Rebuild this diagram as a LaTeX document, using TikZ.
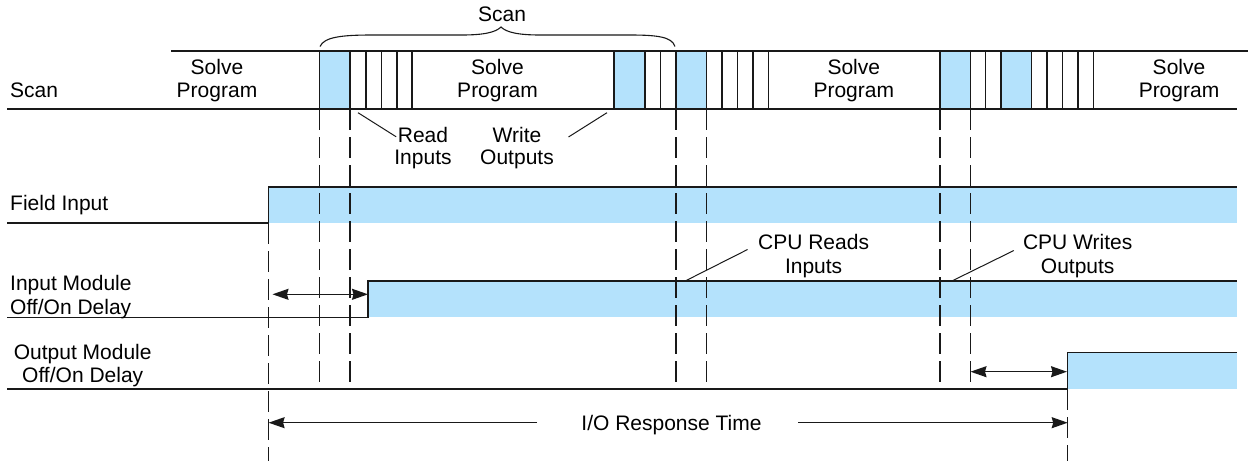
\documentclass[tikz,border=0pt]{standalone}
\usepackage{fontspec}
\setmainfont{Liberation Sans}
\usetikzlibrary{arrows.meta}
\definecolor{sigblue}{RGB}{180,226,252}
\definecolor{ink}{RGB}{25,25,25}
\begin{document}
\begin{tikzpicture}[x=1pt,y=-1pt,
  txt/.style={font=\fontsize{21}{24}\selectfont, inner sep=0pt, anchor=base},
  txtl/.style={txt, anchor=base west},
  ln/.style={draw=ink, line width=1.3pt},
  barline/.style={draw=ink, line width=1.1pt},
  guide/.style={draw=ink, line width=1.2pt, dash pattern=on 21pt off 7pt},
  cell/.style={fill=sigblue, draw=ink, line width=1.1pt},
  leader/.style={draw=ink, line width=1pt},
  tip/.tip={Stealth[length=16pt,width=11pt,inset=1.5pt]},
  dbl/.style={ln, tip-tip},
  sgl/.style={ln, -tip},
]
\useasboundingbox (0,0) rectangle (1248,461);

% ---------- waveform fills ----------
\fill[sigblue] (268.6,187) rectangle (1236.7,223);
\fill[sigblue] (368,281) rectangle (1236.7,317.3);
\fill[sigblue] (1067.7,352.7) rectangle (1237,389);

% ---------- scan bar ----------
\draw[cell] (319.5,51) rectangle (350,109);
\draw[cell] (614,51) rectangle (645,109);
\draw[cell] (676,51) rectangle (706.5,109);
\draw[cell] (940,51) rectangle (970.5,109);
\draw[cell] (1001,51) rectangle (1031.5,109);
\foreach \x in {366,381.5,397,412,660.5,722,737.5,753,768.5,985.5,1047,1062.5,1078,1093.5}
  \draw[barline] (\x,51) -- (\x,109);
\draw[ln] (171,51) -- (1248,51);
\draw[ln] (7,109) -- (1237,109);

% ---------- waveform outlines ----------
\draw[ln] (7,223) -- (268.6,223) -- (268.6,187) -- (1236.7,187);
\draw[ln] (7,317.3) -- (368,317.3) -- (368,281) -- (1236.7,281);
\draw[ln] (7,389) -- (1067.7,389) -- (1067.7,352.7) -- (1237,352.7);

% ---------- dashed guides ----------
\draw[guide] (268.6,223) -- (268.6,461);
\foreach \x in {319.5,350,676,706.5,940,970.5}
  \draw[guide] (\x,109) -- (\x,389);
\draw[guide] (1067.7,389) -- (1067.7,461);

% ---------- brace ----------
\draw[ink, line width=1.1pt]
  (320,46.5) .. controls (324,37) and (342,35) .. (372,35)
  -- (462,35) .. controls (485,35) and (496,32) .. (501,27)
  .. controls (506,32) and (517,35) .. (540,35)
  -- (630,35) .. controls (658,35) and (672,37) .. (675,46.5);

% ---------- texts ----------
\node[txt] (scanT) at (502,21.7) {Scan};
\node[txtl] (scanL) at (10,97.3) {Scan};
\node[txt] (spAa) at (217,74) {Solve};
\node[txt] (spAb) at (217,97.3) {Program};
\node[txt] (spBa) at (497.5,74) {Solve};
\node[txt] (spBb) at (497.5,97.3) {Program};
\node[txt] (spCa) at (853.8,74) {Solve};
\node[txt] (spCb) at (853.8,97.3) {Program};
\node[txt] (spDa) at (1179,74) {Solve};
\node[txt] (spDb) at (1179,97.3) {Program};
\node[txt] (rdA) at (423,142) {Read};
\node[txt] (rdB) at (423,164.5) {Inputs};
\node[txt] (wrA) at (517,142) {Write};
\node[txt] (wrB) at (517,164.5) {Outputs};
\node[txtl] (fin) at (10,210.7) {Field Input};
\node[txtl] (imA) at (10,290) {Input Module};
\node[txtl] (imB) at (10,314) {Off/On Delay};
\node[txt] (omA) at (82.7,359.5) {Output Module};
\node[txt] (omB) at (82.7,382.7) {Off/On Delay};
\node[txt] (crA) at (813.6,249.5) {CPU Reads};
\node[txt] (crB) at (813.6,273) {Inputs};
\node[txt] (cwA) at (1077.7,249.5) {CPU Writes};
\node[txt] (cwB) at (1077.7,273) {Outputs};
\node[txt] (iort) at (671.5,430) {I/O Response Time};

% ---------- leaders ----------
\coordinate (rdP) at (358,112.7);
\coordinate (wrP) at (607,112.7);
\coordinate (crP) at (685.8,280.7);
\coordinate (cwP) at (952.5,280.7);
\draw[leader] (rdP) -- ([shift={(-1.5,2.3)}]rdA.west);
\draw[leader] (wrP) -- ([shift={(27,2.5)}]wrA.east);
\draw[leader] (crP) -- ([xshift=-10.4pt]crA.base west);
\draw[leader] (cwP) -- ([shift={(-9,1)}]cwA.base west);

% ---------- arrows ----------
\coordinate (inL) at (272.5,294.3);
\coordinate (inR) at (368,294.3);
\draw[dbl] (inL) -- (inR);
\coordinate (outL) at (970.5,371.7);
\coordinate (outR) at (1067,371.7);
\draw[dbl] (outL) -- (outR);
\coordinate (ioL) at (268.6,422.7);
\coordinate (ioA) at (537,422.7);
\coordinate (ioB) at (798,422.7);
\coordinate (ioR) at (1067.7,422.7);
\draw[sgl] (ioA) -- (ioL);
\draw[sgl] (ioB) -- (ioR);
\end{tikzpicture}
\end{document}
